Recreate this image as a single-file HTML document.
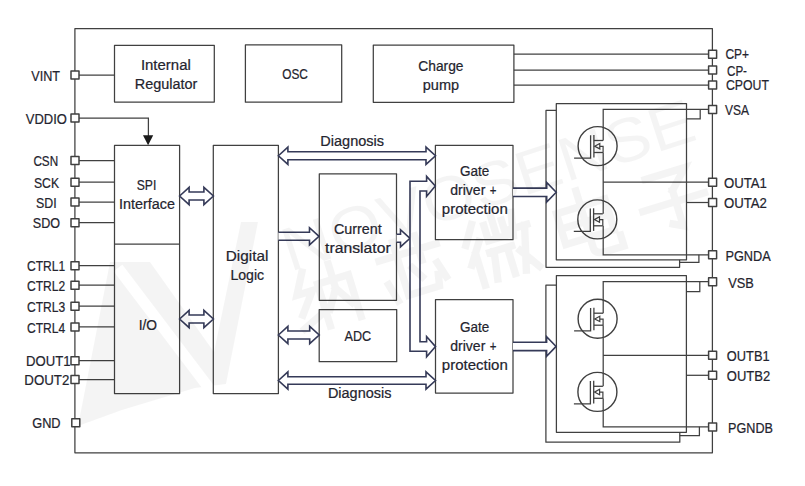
<!DOCTYPE html>
<html><head><meta charset="utf-8"><style>
html,body{margin:0;padding:0;background:#fff;width:805px;height:486px;overflow:hidden}
svg{display:block} rect{stroke-linejoin:round}
text{font-family:"Liberation Sans",sans-serif;fill:#24242e;stroke:#24242e;stroke-width:0.22px}
</style></head><body>
<svg width="805" height="486" viewBox="0 0 805 486">
<rect width="805" height="486" fill="#fff"/>
<rect x="74.9" y="28.6" width="637.50" height="424.20" fill="none" stroke="#404040" stroke-width="1.25"/>
<rect x="114.5" y="45.3" width="99.80" height="56.70" fill="#fff" stroke="#404040" stroke-width="1.25"/>
<rect x="245.4" y="44.9" width="96.30" height="57.30" fill="#fff" stroke="#404040" stroke-width="1.25"/>
<rect x="373.3" y="45.0" width="140.60" height="57.30" fill="#fff" stroke="#404040" stroke-width="1.25"/>
<path d="M75.0,75.0 H114.5" fill="none" stroke="#404040" stroke-width="1.25"/>
<path d="M75.0,118.0 H148.4 V137" fill="none" stroke="#404040" stroke-width="1.25"/>
<path d="M75.0,160.6 H114.5" fill="none" stroke="#404040" stroke-width="1.25"/>
<path d="M75.0,182.2 H114.5" fill="none" stroke="#404040" stroke-width="1.25"/>
<path d="M75.0,202.1 H114.5" fill="none" stroke="#404040" stroke-width="1.25"/>
<path d="M75.0,222.7 H114.5" fill="none" stroke="#404040" stroke-width="1.25"/>
<path d="M75.0,265.7 H114.5" fill="none" stroke="#404040" stroke-width="1.25"/>
<path d="M75.0,285.2 H114.5" fill="none" stroke="#404040" stroke-width="1.25"/>
<path d="M75.0,306.2 H114.5" fill="none" stroke="#404040" stroke-width="1.25"/>
<path d="M75.0,326.9 H114.5" fill="none" stroke="#404040" stroke-width="1.25"/>
<path d="M75.0,360.7 H114.5" fill="none" stroke="#404040" stroke-width="1.25"/>
<path d="M75.0,379.5 H114.5" fill="none" stroke="#404040" stroke-width="1.25"/>
<path d="M143.0,135.3 L153.2,135.3 L148.1,145.2 Z" fill="#1a1a1a" stroke="none"/>
<rect x="114.5" y="145.4" width="65.10" height="248.20" fill="#fff" stroke="#404040" stroke-width="1.25"/>
<path d="M114.5,244 H179.6" fill="none" stroke="#404040" stroke-width="1.25"/>
<rect x="213.3" y="145.4" width="65.10" height="248.20" fill="#fff" stroke="#404040" stroke-width="1.25"/>
<rect x="319.3" y="173.8" width="77.20" height="126.50" fill="#fff" stroke="#404040" stroke-width="1.25"/>
<rect x="319.2" y="309.5" width="77.50" height="52.20" fill="#fff" stroke="#404040" stroke-width="1.25"/>
<rect x="435.4" y="145.3" width="77.60" height="94.40" fill="#fff" stroke="#404040" stroke-width="1.25"/>
<rect x="435.5" y="299.5" width="77.50" height="93.60" fill="#fff" stroke="#404040" stroke-width="1.25"/>
<path d="M513.9,54.2 H712.5" fill="none" stroke="#404040" stroke-width="1.25"/>
<path d="M513.9,70.1 H712.5" fill="none" stroke="#404040" stroke-width="1.25"/>
<path d="M513.9,85.0 H712.5" fill="none" stroke="#404040" stroke-width="1.25"/>
<rect x="546.0" y="110.4" width="133.60" height="156.90" fill="#fff" stroke="#404040" stroke-width="1.25"/>
<rect x="556.3" y="103.5" width="130.20" height="156.30" fill="#fff" stroke="#404040" stroke-width="1.25"/>
<path d="M700.2,109.4 V118.9 H686.5" fill="none" stroke="#404040" stroke-width="1.25"/>
<path d="M698.9,254.8 V262.4 H679.6" fill="none" stroke="#404040" stroke-width="1.25"/>
<path d="M712.5,109.4 H603.2 V140.5" fill="none" stroke="#404040" stroke-width="1.25"/>
<path d="M603.2,152.5 V213.8" fill="none" stroke="#404040" stroke-width="1.25"/>
<path d="M603.2,182.2 H712.5" fill="none" stroke="#404040" stroke-width="1.25"/>
<path d="M603.2,225.8 V254.8 H712.5" fill="none" stroke="#404040" stroke-width="1.25"/>
<path d="M686.5,202.5 H712.5" fill="none" stroke="#404040" stroke-width="1.25"/>
<circle cx="597.6" cy="146.1" r="19.5" fill="none" stroke="#404040" stroke-width="1.4"/>
<path d="M574.1,158.1 H590.6 V135.29999999999998" fill="none" stroke="#404040" stroke-width="1.3"/>
<path d="M593.9,135.0 V157.6" fill="none" stroke="#404040" stroke-width="1.3"/>
<path d="M593.9,140.5 H603.1" fill="none" stroke="#404040" stroke-width="1.3"/>
<path d="M593.9,152.5 H603.1" fill="none" stroke="#404040" stroke-width="1.3"/>
<path d="M594.7,146.29999999999998 L599.8000000000001,143.5 L599.8000000000001,148.9 Z" fill="none" stroke="#404040" stroke-width="1.2"/>
<path d="M599.8000000000001,146.4 H603.1 V152.5" fill="none" stroke="#404040" stroke-width="1.2"/>
<circle cx="597.3" cy="219.4" r="19.5" fill="none" stroke="#404040" stroke-width="1.4"/>
<path d="M573.8,231.4 H590.3 V208.6" fill="none" stroke="#404040" stroke-width="1.3"/>
<path d="M593.5999999999999,208.3 V230.9" fill="none" stroke="#404040" stroke-width="1.3"/>
<path d="M593.5999999999999,213.8 H602.8" fill="none" stroke="#404040" stroke-width="1.3"/>
<path d="M593.5999999999999,225.8 H602.8" fill="none" stroke="#404040" stroke-width="1.3"/>
<path d="M594.4,219.6 L599.5,216.8 L599.5,222.20000000000002 Z" fill="none" stroke="#404040" stroke-width="1.2"/>
<path d="M599.5,219.70000000000002 H602.8 V225.8" fill="none" stroke="#404040" stroke-width="1.2"/>
<rect x="545.9" y="285.2" width="133.90" height="157.00" fill="#fff" stroke="#404040" stroke-width="1.25"/>
<rect x="556.4" y="275.5" width="130.00" height="156.80" fill="#fff" stroke="#404040" stroke-width="1.25"/>
<path d="M699.8,281.6 V291.7 H686.4" fill="none" stroke="#404040" stroke-width="1.25"/>
<path d="M699.4,426.8 V435.5 H679.8" fill="none" stroke="#404040" stroke-width="1.25"/>
<path d="M712.5,281.6 H603.2 V313.2" fill="none" stroke="#404040" stroke-width="1.25"/>
<path d="M603.2,325.2 V386.29999999999995" fill="none" stroke="#404040" stroke-width="1.25"/>
<path d="M603.2,355.3 H712.5" fill="none" stroke="#404040" stroke-width="1.25"/>
<path d="M603.2,398.29999999999995 V426.8 H712.5" fill="none" stroke="#404040" stroke-width="1.25"/>
<path d="M686.4,375.3 H712.5" fill="none" stroke="#404040" stroke-width="1.25"/>
<circle cx="597.6" cy="318.8" r="19.5" fill="none" stroke="#404040" stroke-width="1.4"/>
<path d="M574.1,330.8 H590.6 V308.0" fill="none" stroke="#404040" stroke-width="1.3"/>
<path d="M593.9,307.7 V330.3" fill="none" stroke="#404040" stroke-width="1.3"/>
<path d="M593.9,313.2 H603.1" fill="none" stroke="#404040" stroke-width="1.3"/>
<path d="M593.9,325.2 H603.1" fill="none" stroke="#404040" stroke-width="1.3"/>
<path d="M594.7,319.0 L599.8000000000001,316.2 L599.8000000000001,321.6 Z" fill="none" stroke="#404040" stroke-width="1.2"/>
<path d="M599.8000000000001,319.1 H603.1 V325.2" fill="none" stroke="#404040" stroke-width="1.2"/>
<circle cx="597.4" cy="391.9" r="19.5" fill="none" stroke="#404040" stroke-width="1.4"/>
<path d="M573.9,403.9 H590.4 V381.09999999999997" fill="none" stroke="#404040" stroke-width="1.3"/>
<path d="M593.6999999999999,380.79999999999995 V403.4" fill="none" stroke="#404040" stroke-width="1.3"/>
<path d="M593.6999999999999,386.29999999999995 H602.9" fill="none" stroke="#404040" stroke-width="1.3"/>
<path d="M593.6999999999999,398.29999999999995 H602.9" fill="none" stroke="#404040" stroke-width="1.3"/>
<path d="M594.5,392.09999999999997 L599.6,389.29999999999995 L599.6,394.7 Z" fill="none" stroke="#404040" stroke-width="1.2"/>
<path d="M599.6,392.2 H602.9 V398.29999999999995" fill="none" stroke="#404040" stroke-width="1.2"/>
<path d="M179.6,196.0 L189.1,187.4 L189.1,192.0 L203.9,192.0 L203.9,187.4 L213.4,196.0 L203.9,204.6 L203.9,200.0 L189.1,200.0 L189.1,204.6 Z" fill="#fff" stroke="#353a58" stroke-width="1.6"/>
<path d="M179.6,319.0 L189.1,310.4 L189.1,315.0 L203.9,315.0 L203.9,310.4 L213.4,319.0 L203.9,327.6 L203.9,323.0 L189.1,323.0 L189.1,327.6 Z" fill="#fff" stroke="#353a58" stroke-width="1.6"/>
<path d="M278.4,155.75 L287.9,147.15 L287.9,151.8 L426.0,151.8 L426.0,147.15 L435.5,155.75 L426.0,164.35 L426.0,159.7 L287.9,159.7 L287.9,164.35 Z" fill="#fff" stroke="#353a58" stroke-width="1.6"/>
<path d="M278.4,232.3 L309.5,232.3 L309.5,227.70000000000002 L319.0,236.3 L309.5,244.9 L309.5,240.3 L278.4,240.3" fill="#fff" stroke="#353a58" stroke-width="1.6"/>
<path d="M278.4,335.0 L287.9,326.4 L287.9,331.0 L309.7,331.0 L309.7,326.4 L319.2,335.0 L309.7,343.6 L309.7,339.0 L287.9,339.0 L287.9,343.6 Z" fill="#fff" stroke="#353a58" stroke-width="1.6"/>
<path d="M278.4,380.5 L287.9,371.9 L287.9,376.7 L426.0,376.7 L426.0,371.9 L435.5,380.5 L426.0,389.1 L426.0,384.3 L287.9,384.3 L287.9,389.1 Z" fill="#fff" stroke="#353a58" stroke-width="1.6"/>
<path d="M396.6,234.3 L400.5,234.3 L400.5,229.70000000000002 L410.0,238.3 L400.5,246.9 L400.5,242.3 L396.6,242.3" fill="#fff" stroke="#353a58" stroke-width="1.6"/>
<path d="M410,351.2 V181.2 H426.6 V176.4 L435.3,186 L426.6,196.4 V191 H420 V341.7 H426.6 V336.5 L435.5,346.6 L426.6,356.8 V351.2 Z" fill="#fff" stroke="#353a58" stroke-width="1.6"/>
<path d="M513.0,188.10000000000002 L546.7,188.10000000000002 L546.7,182.5 L556.2,192.3 L546.7,202.10000000000002 L546.7,196.5 L513.0,196.5" fill="#fff" stroke="#353a58" stroke-width="1.6"/>
<path d="M513.0,342.2 L546.6,342.2 L546.6,336.59999999999997 L556.1,346.4 L546.6,356.2 L546.6,350.59999999999997 L513.0,350.59999999999997" fill="#fff" stroke="#353a58" stroke-width="1.6"/>
<rect x="71.00" y="71.00" width="8.0" height="8.0" fill="#fff" stroke="#404040" stroke-width="1.5"/>
<rect x="71.00" y="114.00" width="8.0" height="8.0" fill="#fff" stroke="#404040" stroke-width="1.5"/>
<rect x="71.00" y="156.60" width="8.0" height="8.0" fill="#fff" stroke="#404040" stroke-width="1.5"/>
<rect x="71.00" y="178.20" width="8.0" height="8.0" fill="#fff" stroke="#404040" stroke-width="1.5"/>
<rect x="71.00" y="198.10" width="8.0" height="8.0" fill="#fff" stroke="#404040" stroke-width="1.5"/>
<rect x="71.00" y="218.70" width="8.0" height="8.0" fill="#fff" stroke="#404040" stroke-width="1.5"/>
<rect x="71.00" y="261.70" width="8.0" height="8.0" fill="#fff" stroke="#404040" stroke-width="1.5"/>
<rect x="71.00" y="281.20" width="8.0" height="8.0" fill="#fff" stroke="#404040" stroke-width="1.5"/>
<rect x="71.00" y="302.20" width="8.0" height="8.0" fill="#fff" stroke="#404040" stroke-width="1.5"/>
<rect x="71.00" y="322.90" width="8.0" height="8.0" fill="#fff" stroke="#404040" stroke-width="1.5"/>
<rect x="71.00" y="356.70" width="8.0" height="8.0" fill="#fff" stroke="#404040" stroke-width="1.5"/>
<rect x="71.00" y="375.50" width="8.0" height="8.0" fill="#fff" stroke="#404040" stroke-width="1.5"/>
<rect x="71.80" y="418.70" width="8.0" height="8.0" fill="#fff" stroke="#404040" stroke-width="1.5"/>
<rect x="708.60" y="50.20" width="8.0" height="8.0" fill="#fff" stroke="#404040" stroke-width="1.5"/>
<rect x="708.60" y="66.00" width="8.0" height="8.0" fill="#fff" stroke="#404040" stroke-width="1.5"/>
<rect x="708.60" y="81.00" width="8.0" height="8.0" fill="#fff" stroke="#404040" stroke-width="1.5"/>
<rect x="708.60" y="105.40" width="8.0" height="8.0" fill="#fff" stroke="#404040" stroke-width="1.5"/>
<rect x="708.60" y="178.20" width="8.0" height="8.0" fill="#fff" stroke="#404040" stroke-width="1.5"/>
<rect x="708.60" y="198.60" width="8.0" height="8.0" fill="#fff" stroke="#404040" stroke-width="1.5"/>
<rect x="708.60" y="250.80" width="8.0" height="8.0" fill="#fff" stroke="#404040" stroke-width="1.5"/>
<rect x="708.60" y="277.80" width="8.0" height="8.0" fill="#fff" stroke="#404040" stroke-width="1.5"/>
<rect x="708.60" y="351.30" width="8.0" height="8.0" fill="#fff" stroke="#404040" stroke-width="1.5"/>
<rect x="708.60" y="371.30" width="8.0" height="8.0" fill="#fff" stroke="#404040" stroke-width="1.5"/>
<rect x="708.60" y="423.00" width="8.0" height="8.0" fill="#fff" stroke="#404040" stroke-width="1.5"/>
<text x="140.9" y="70.0" font-size="15.3" textLength="49.9" lengthAdjust="spacingAndGlyphs">Internal</text>
<text x="134.8" y="89.0" font-size="15.3" textLength="62.6" lengthAdjust="spacingAndGlyphs">Regulator</text>
<text x="282.2" y="78.8" font-size="15.3" textLength="25.6" lengthAdjust="spacingAndGlyphs">OSC</text>
<text x="418.3" y="71.1" font-size="15.3" textLength="45.2" lengthAdjust="spacingAndGlyphs">Charge</text>
<text x="422.8" y="89.6" font-size="15.3" textLength="36.3" lengthAdjust="spacingAndGlyphs">pump</text>
<text x="31.3" y="81.0" font-size="15.3" textLength="28.8" lengthAdjust="spacingAndGlyphs">VINT</text>
<text x="25.8" y="123.8" font-size="15.3" textLength="41.1" lengthAdjust="spacingAndGlyphs">VDDIO</text>
<text x="33.4" y="166.3" font-size="15.3" textLength="24.7" lengthAdjust="spacingAndGlyphs">CSN</text>
<text x="34.0" y="187.8" font-size="15.3" textLength="25.0" lengthAdjust="spacingAndGlyphs">SCK</text>
<text x="36.0" y="207.6" font-size="15.3" textLength="20.6" lengthAdjust="spacingAndGlyphs">SDI</text>
<text x="32.8" y="228.2" font-size="15.3" textLength="27.3" lengthAdjust="spacingAndGlyphs">SDO</text>
<text x="27.0" y="271.3" font-size="15.3" textLength="38.2" lengthAdjust="spacingAndGlyphs">CTRL1</text>
<text x="27.0" y="290.8" font-size="15.3" textLength="38.2" lengthAdjust="spacingAndGlyphs">CTRL2</text>
<text x="27.0" y="311.7" font-size="15.3" textLength="38.2" lengthAdjust="spacingAndGlyphs">CTRL3</text>
<text x="27.0" y="332.5" font-size="15.3" textLength="38.2" lengthAdjust="spacingAndGlyphs">CTRL4</text>
<text x="26.0" y="366.3" font-size="15.3" textLength="44.5" lengthAdjust="spacingAndGlyphs">DOUT1</text>
<text x="24.3" y="385.1" font-size="15.3" textLength="45.0" lengthAdjust="spacingAndGlyphs">DOUT2</text>
<text x="32.2" y="428.3" font-size="15.3" textLength="28.4" lengthAdjust="spacingAndGlyphs">GND</text>
<text x="725.4" y="59.4" font-size="15.3" textLength="23.6" lengthAdjust="spacingAndGlyphs">CP+</text>
<text x="727.0" y="75.8" font-size="15.3" textLength="20.0" lengthAdjust="spacingAndGlyphs">CP-</text>
<text x="726.0" y="90.2" font-size="15.3" textLength="43.0" lengthAdjust="spacingAndGlyphs">CPOUT</text>
<text x="725.0" y="114.8" font-size="15.3" textLength="24.0" lengthAdjust="spacingAndGlyphs">VSA</text>
<text x="723.9" y="188.0" font-size="15.3" textLength="43.0" lengthAdjust="spacingAndGlyphs">OUTA1</text>
<text x="723.9" y="208.2" font-size="15.3" textLength="43.0" lengthAdjust="spacingAndGlyphs">OUTA2</text>
<text x="725.4" y="261.0" font-size="15.3" textLength="45.3" lengthAdjust="spacingAndGlyphs">PGNDA</text>
<text x="728.3" y="287.8" font-size="15.3" textLength="25.6" lengthAdjust="spacingAndGlyphs">VSB</text>
<text x="726.8" y="360.8" font-size="15.3" textLength="42.8" lengthAdjust="spacingAndGlyphs">OUTB1</text>
<text x="726.8" y="380.9" font-size="15.3" textLength="43.4" lengthAdjust="spacingAndGlyphs">OUTB2</text>
<text x="728.1" y="433.1" font-size="15.3" textLength="44.8" lengthAdjust="spacingAndGlyphs">PGNDB</text>
<text x="136.7" y="189.6" font-size="15.3" textLength="19.6" lengthAdjust="spacingAndGlyphs">SPI</text>
<text x="119.0" y="208.9" font-size="15.3" textLength="56.0" lengthAdjust="spacingAndGlyphs">Interface</text>
<text x="138.7" y="330.4" font-size="15.3" textLength="18.4" lengthAdjust="spacingAndGlyphs">I/O</text>
<text x="225.8" y="261.4" font-size="15.3" textLength="42.5" lengthAdjust="spacingAndGlyphs">Digital</text>
<text x="230.4" y="280.3" font-size="15.3" textLength="33.8" lengthAdjust="spacingAndGlyphs">Logic</text>
<text x="320.3" y="146.4" font-size="15.3" textLength="63.7" lengthAdjust="spacingAndGlyphs">Diagnosis</text>
<text x="333.9" y="234.2" font-size="15.3" textLength="47.8" lengthAdjust="spacingAndGlyphs">Current</text>
<text x="325.1" y="253.2" font-size="15.3" textLength="65.6" lengthAdjust="spacingAndGlyphs">translator</text>
<text x="344.5" y="341.0" font-size="15.3" textLength="26.6" lengthAdjust="spacingAndGlyphs">ADC</text>
<text x="327.9" y="397.9" font-size="15.3" textLength="63.5" lengthAdjust="spacingAndGlyphs">Diagnosis</text>
<text x="460.0" y="175.9" font-size="15.3" textLength="29.3" lengthAdjust="spacingAndGlyphs">Gate</text>
<text x="450.2" y="195.0" font-size="15.3" textLength="35.2" lengthAdjust="spacingAndGlyphs">driver</text>
<text x="489.8" y="195.0" font-size="15.3" textLength="6.7" lengthAdjust="spacingAndGlyphs">+</text>
<text x="441.8" y="214.0" font-size="15.3" textLength="66.0" lengthAdjust="spacingAndGlyphs">protection</text>
<text x="460.0" y="332.0" font-size="15.3" textLength="29.3" lengthAdjust="spacingAndGlyphs">Gate</text>
<text x="450.2" y="351.1" font-size="15.3" textLength="35.2" lengthAdjust="spacingAndGlyphs">driver</text>
<text x="489.8" y="351.1" font-size="15.3" textLength="6.7" lengthAdjust="spacingAndGlyphs">+</text>
<text x="441.8" y="370.1" font-size="15.3" textLength="66.0" lengthAdjust="spacingAndGlyphs">protection</text>
<defs><mask id="wmask" maskUnits="userSpaceOnUse" x="0" y="0" width="805" height="486"><rect x="0" y="0" width="805" height="486" fill="#fff"/><path d="M118,268 L212,392" stroke="#000" stroke-width="11"/></mask></defs>
<g opacity="0.04">
<polygon mask="url(#wmask)" points="78,426 110,262 150,262 214,352 241,222 258,222 226,384 195,388 122,410" fill="#000"/>
<text x="290" y="272" transform="rotate(-18 290 272)" font-size="62" textLength="430" lengthAdjust="spacingAndGlyphs" style="fill:#000;stroke:none">NOVOSENSE</text>
<g transform="translate(326 296) rotate(-17) scale(1.15)"><path d="M-14,-26 L-24,-8 L-10,-8 L-24,10 M-26,22 L-8,14 M-4,-12 H24 V26 M-4,-12 V26 M10,-26 V-4 L0,12 M10,-4 L20,12" fill="none" stroke="#000" stroke-width="6.5" stroke-linecap="square"/></g>
<g transform="translate(413 270) rotate(-17) scale(1.15)"><path d="M-26,-16 H26 M-10,-28 V-6 M10,-28 V-6 M-24,6 L-20,22 M-10,0 V20 H18 L20,10 M0,-2 L6,8 M22,0 L26,14" fill="none" stroke="#000" stroke-width="6.5" stroke-linecap="square"/></g>
<g transform="translate(500 247) rotate(-17) scale(1.15)"><path d="M-18,-26 L-28,-10 M-16,-10 L-28,8 M-22,0 V28 M-8,-22 V-8 H8 V-22 M0,-28 V-8 M-10,2 H10 M-6,2 L-10,26 M6,2 V26 M18,-26 L14,-6 M14,-12 H28 M26,-12 L16,26 M16,8 L28,26" fill="none" stroke="#000" stroke-width="6.5" stroke-linecap="square"/></g>
<g transform="translate(586 224) rotate(-17) scale(1.15)"><path d="M-22,-16 H22 V12 H-22 Z M-22,-2 H22 M0,-30 V22 Q0,28 10,28 H26 V18" fill="none" stroke="#000" stroke-width="6.5" stroke-linecap="square"/></g>
<g transform="translate(673 200) rotate(-17) scale(1.15)"><path d="M-18,-24 H18 L2,-8 M2,-8 V24 L-6,20 M-28,2 H28" fill="none" stroke="#000" stroke-width="6.5" stroke-linecap="square"/></g>
</g>
</svg>
</body></html>
